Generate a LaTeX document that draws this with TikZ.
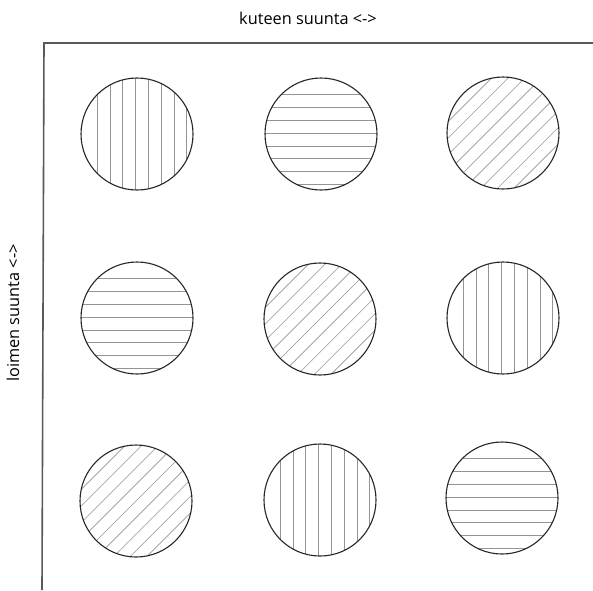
\documentclass[tikz,border=0pt]{standalone}
\usepackage{fontspec}
\setsansfont{Open Sans}
\usetikzlibrary{calc}
\begin{document}
\begin{tikzpicture}[x=1pt,y=-1pt,
  disc/.style={circle, draw=black!85, line width=1.1pt, minimum size=112pt, inner sep=0pt},
  hatchline/.style={draw=black!42, line width=0.6pt},
  vhatch/.style={path picture={
    \foreach \k in {-3,...,4}
      \draw[hatchline] ([xshift=\k*12.8pt-1.5pt]path picture bounding box.north) -- ([xshift=\k*12.8pt-1.5pt]path picture bounding box.south);}},
  hhatch/.style={path picture={
    \foreach \k in {-3,...,4}
      \draw[hatchline] ([yshift=-\k*12.8pt+1pt]path picture bounding box.west) -- ([yshift=-\k*12.8pt+1pt]path picture bounding box.east);}},
  dhatch/.style={path picture={
    \foreach \k in {-6,...,6}
      \draw[hatchline] ($(path picture bounding box.center)+(\k*8.3,\k*8.3)+(-60,60)$) -- ($(path picture bounding box.center)+(\k*8.3,\k*8.3)+(60,-60)$);}},
  frame/.style={draw=black!65, line width=1.6pt},
  label/.style={font=\sffamily\fontsize{16.3}{19}\selectfont, text=black, inner sep=0pt}
]
\useasboundingbox (0,0) rectangle (593,590);
\coordinate (fbl) at (42,590);
\coordinate (ftl) at (44,43);
\coordinate (ftr) at (593,43);
\draw[frame] (fbl) -- (ftl) -- (ftr);
\node[label] (top) at (308,18) {kuteen suunta <->};
\node[label, rotate=90] (left) at (13,313) {loimen suunta <->};
% row 1
\node[disc, vhatch] (c11) at (137,134) {};
\node[disc, hhatch] (c12) at (321,134) {};
\node[disc, dhatch] (c13) at (503,133) {};
% row 2
\node[disc, hhatch] (c21) at (137,318) {};
\node[disc, dhatch] (c22) at (320,319) {};
\node[disc, vhatch] (c23) at (503,318) {};
% row 3
\node[disc, dhatch] (c31) at (136,501) {};
\node[disc, vhatch] (c32) at (320,500) {};
\node[disc, hhatch] (c33) at (502,498) {};
\end{tikzpicture}
\end{document}
